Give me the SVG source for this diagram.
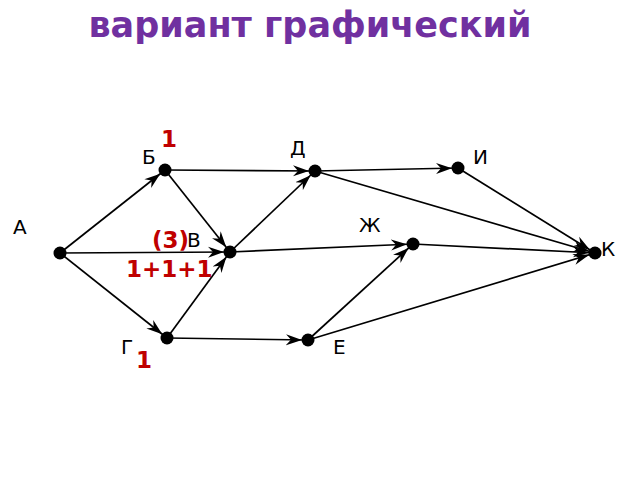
<svg xmlns="http://www.w3.org/2000/svg" width="640" height="480" viewBox="0 0 640 480">
<style>
.title{font-family:"DejaVu Sans",sans-serif;font-weight:bold;font-size:35px;fill:#7030A0}
.lbl{font-family:"DejaVu Sans",sans-serif;font-size:20px;fill:#000}
.num{font-family:"DejaVu Sans",sans-serif;font-weight:bold;font-size:23px;fill:#C00000}
.edge{stroke:#000;stroke-width:1.7;fill:none;marker-end:url(#arr)}
.dot{fill:#000}
</style>
<defs>
<marker id="arr" viewBox="0 -6 24 12" refX="22" refY="0" markerWidth="24" markerHeight="12" markerUnits="userSpaceOnUse" orient="auto">
<path d="M0,-5.5 L16,0 L0,5.5 L5,0 z" fill="#000"/>
</marker>
</defs>
<rect width="640" height="480" fill="#fff"/>
<text class="title" x="310" y="37" text-anchor="middle">вариант графический</text>
<g id="connectors">
<line class="edge" x1="60" y1="253" x2="165" y2="170"/>
<line class="edge" x1="60" y1="253" x2="230" y2="252"/>
<line class="edge" x1="60" y1="253" x2="167" y2="338"/>
<line class="edge" x1="165" y1="170" x2="315" y2="171"/>
<line class="edge" x1="165" y1="170" x2="230" y2="252"/>
<line class="edge" x1="167" y1="338" x2="230" y2="252"/>
<line class="edge" x1="167" y1="338" x2="308" y2="340"/>
<line class="edge" x1="230" y1="252" x2="315" y2="171"/>
<line class="edge" x1="230" y1="252" x2="413" y2="244"/>
<line class="edge" x1="308" y1="340" x2="413" y2="244"/>
<line class="edge" x1="308" y1="340" x2="595" y2="253"/>
<line class="edge" x1="315" y1="171" x2="458" y2="168"/>
<line class="edge" x1="315" y1="171" x2="595" y2="253"/>
<line class="edge" x1="458" y1="168" x2="595" y2="253"/>
<line class="edge" x1="413" y1="244" x2="595" y2="253"/>
</g>
<g id="node-A"><circle class="dot" cx="60" cy="253" r="6.5"/><text class="lbl" x="13" y="234">А</text></g>
<g id="node-B"><circle class="dot" cx="165" cy="170" r="6.5"/><text class="lbl" x="142" y="164">Б</text><text class="num" x="161" y="147">1</text></g>
<g id="node-V"><circle class="dot" cx="230" cy="252" r="6.5"/><text class="lbl" x="187" y="247">В</text><text class="num" x="152" y="248">(3)</text><text class="num" x="126" y="277">1+1+1</text></g>
<g id="node-G"><circle class="dot" cx="167" cy="338" r="6.5"/><text class="lbl" x="121" y="354">Г</text><text class="num" x="136" y="368">1</text></g>
<g id="node-D"><circle class="dot" cx="315" cy="171" r="6.5"/><text class="lbl" x="290" y="155">Д</text></g>
<g id="node-E"><circle class="dot" cx="308" cy="340" r="6.5"/><text class="lbl" x="333" y="354">Е</text></g>
<g id="node-Zh"><circle class="dot" cx="413" cy="244" r="6.5"/><text class="lbl" x="359" y="232">Ж</text></g>
<g id="node-I"><circle class="dot" cx="458" cy="168" r="6.5"/><text class="lbl" x="473" y="164">И</text></g>
<g id="node-K"><circle class="dot" cx="595" cy="253" r="6.5"/><text class="lbl" x="601" y="256">К</text></g>
</svg>
